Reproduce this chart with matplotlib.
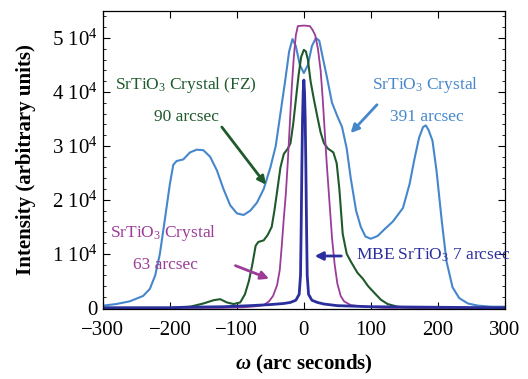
import matplotlib
matplotlib.use("Agg")
import matplotlib.pyplot as plt
from matplotlib.ticker import FixedLocator, MultipleLocator, FuncFormatter

plt.rcParams['font.family'] = ['Liberation Serif', 'DejaVu Serif']
plt.rcParams['mathtext.fontset'] = 'custom'
plt.rcParams['mathtext.rm'] = 'Liberation Serif'
plt.rcParams['mathtext.it'] = 'Liberation Serif:italic'
plt.rcParams['mathtext.bf'] = 'Liberation Serif:bold:italic'

# rocking curves, intensity in units of 1e4
bulk_x = [-300, -280, -260, -240, -230, -222, -215, -208, -200, -195, -190, -180, -170,
          -160, -150, -140, -130, -120, -110, -100, -90, -80, -70, -60, -50, -42, -35,
          -28, -22, -17, -12, -6, 0, 6, 12, 18, 23, 28, 34, 42, 50, 57, 64, 70, 78, 85,
          92, 100, 110, 120, 133, 148, 158, 165, 172, 178, 182, 186, 192, 198, 206, 213,
          222, 232, 245, 260, 280, 300]
bulk_y = [0.04, 0.07, 0.12, 0.22, 0.35, 0.6, 1.0, 1.6, 2.3, 2.65, 2.72, 2.75, 2.88,
          2.93, 2.92, 2.8, 2.55, 2.2, 1.9, 1.75, 1.72, 1.8, 1.95, 2.2, 2.6, 3.0, 3.6,
          4.2, 4.75, 4.98, 4.85, 4.5, 4.35, 4.5, 4.85, 5.0, 4.95, 4.65, 4.3, 3.8, 3.55,
          3.35, 2.95, 2.4, 1.8, 1.5, 1.32, 1.28, 1.33, 1.45, 1.6, 1.85, 2.3, 2.75, 3.15,
          3.35, 3.38, 3.3, 3.1, 2.55, 1.6, 0.86, 0.38, 0.18, 0.08, 0.04, 0.02, 0.02]

fz_x = [-300, -200, -170, -150, -135, -125, -115, -105, -95, -88, -82, -77, -72, -68,
        -60, -54, -48, -44, -40, -35, -30, -24, -20, -16, -12, -8, -4, 0, 3, 6, 10, 15,
        20, 25, 30, 36, 44, 49, 53, 58, 64, 70, 80, 88, 96, 105, 115, 125, 140, 160, 300]
fz_y = [0, 0, 0.02, 0.08, 0.14, 0.16, 0.1, 0.07, 0.1, 0.25, 0.5, 0.8, 1.15, 1.22,
        1.25, 1.35, 1.5, 1.8, 2.15, 2.6, 2.85, 2.95, 3.05, 3.4, 3.85, 4.3, 4.65, 4.78,
        4.75, 4.6, 4.2, 3.86, 3.55, 3.25, 3.05, 2.95, 2.88, 2.68, 2.2, 1.37, 1.0, 0.86,
        0.65, 0.54, 0.4, 0.28, 0.15, 0.07, 0.02, 0, 0]

xtal_x = [-300, -120, -90, -70, -60, -52, -46, -40, -36, -33, -30, -27, -24, -21, -18,
          -15, -12, -9, 0, 9, 13, 17, 21, 25, 28, 31, 34, 38, 42, 46, 50, 55, 60, 70, 90,
          120, 300]
xtal_y = [0, 0, 0.01, 0.03, 0.05, 0.12, 0.22, 0.42, 0.7, 1.15, 1.65, 2.1, 2.7, 3.4,
          4.1, 4.65, 5.05, 5.22, 5.23, 5.22, 5.15, 5.05, 4.8, 4.4, 3.9, 3.3, 2.7, 2.0,
          1.3, 0.8, 0.45, 0.22, 0.12, 0.05, 0.02, 0, 0]

mbe_x = [-300, -200, -180, -120, -80, -50, -30, -20, -12, -7, -5, -4, -3, -2, -1, 0,
         1, 2, 3, 4, 5, 7, 12, 20, 30, 50, 100, 200, 300]
mbe_y = [0, 0, 0.01, 0.02, 0.04, 0.06, 0.08, 0.1, 0.14, 0.25, 0.6, 1.5, 2.6, 3.5, 4.0,
         4.22, 4.0, 3.5, 2.6, 1.5, 0.6, 0.25, 0.14, 0.1, 0.07, 0.04, 0.02, 0.01, 0]

x_ticks = [-300, -200, -100, 0, 100, 200, 300]
y_ticks = [0, 1, 2, 3, 4, 5]

c_bulk = '#4687cc'
c_fz = '#1f5a2c'
c_xtal = '#9a3c98'
c_mbe = '#2b2f9e'

fig = plt.figure(figsize=(5.28, 3.79), dpi=100)
ax = fig.add_axes([0.195, 0.185, 0.761, 0.786])

ax.plot(bulk_x, [v * 1e4 for v in bulk_y], color=c_bulk, lw=1.5)
ax.plot(fz_x, [v * 1e4 for v in fz_y], color=c_fz, lw=1.5)
ax.plot(xtal_x, [v * 1e4 for v in xtal_y], color=c_xtal, lw=1.3)
ax.plot(mbe_x, [v * 1e4 for v in mbe_y], color=c_mbe, lw=2.0)

ax.set_xlim(-300, 300)
ax.set_ylim(-200, 55000)
ax.xaxis.set_major_locator(FixedLocator(x_ticks))
ax.yaxis.set_major_locator(FixedLocator([v * 1e4 for v in y_ticks]))
ax.yaxis.set_minor_locator(MultipleLocator(2000))
ax.yaxis.set_major_formatter(FuncFormatter(
    lambda v, p: '0' if v == 0 else '%d 10$^4$' % round(v / 1e4)))
ax.tick_params(which='both', direction='in', top=True, right=True, labelsize=15)
ax.tick_params(which='major', length=5, width=0.8)
ax.tick_params(which='minor', length=2.5, width=0.6)
ax.tick_params(axis='x', pad=9)
for s in ax.spines.values():
    s.set_linewidth(0.9)

ax.set_xlabel(r'$\mathbf{\omega}$ (arc seconds)', fontsize=15, fontweight='bold', labelpad=9)
ax.set_ylabel('Intensity (arbitrary units)', fontsize=15, fontweight='bold', labelpad=12)

ts = 12.5
ax.text(-282, 4.13e4, 'SrTiO$_3$ Crystal (FZ)', color=c_fz, fontsize=ts, va='center')
ax.text(-175, 3.54e4, '90 arcsec', color=c_fz, fontsize=ts, va='center', ha='center')
ax.annotate('', xy=(-54, 2.24e4), xytext=(-125, 3.39e4),
            arrowprops=dict(arrowstyle='-|>', color=c_fz, lw=2, mutation_scale=12))

ax.text(101, 4.13e4, 'SrTiO$_3$ Crystal', color=c_bulk, fontsize=ts, va='center')
ax.text(183, 3.54e4, '391 arcsec', color=c_bulk, fontsize=ts, va='center', ha='center')
ax.annotate('', xy=(67, 3.2e4), xytext=(112, 3.8e4),
            arrowprops=dict(arrowstyle='-|>', color=c_bulk, lw=2, mutation_scale=12))

ax.text(-290, 1.39e4, 'SrTiO$_3$ Crystal', color=c_xtal, fontsize=ts, va='center')
ax.text(-207, 0.8e4, '63 arcsec', color=c_xtal, fontsize=ts, va='center', ha='center')
ax.annotate('', xy=(-48, 0.52e4), xytext=(-106, 0.8e4),
            arrowprops=dict(arrowstyle='-|>', color=c_xtal, lw=2, mutation_scale=12))

ax.text(78, 0.98e4, 'MBE SrTiO$_3$ 7 arcsec', color=c_mbe, fontsize=ts, va='center')
ax.annotate('', xy=(12, 0.96e4), xytext=(60, 0.96e4),
            arrowprops=dict(arrowstyle='-|>', color=c_mbe, lw=2, mutation_scale=12))

fig.savefig('out.png', dpi=100)
